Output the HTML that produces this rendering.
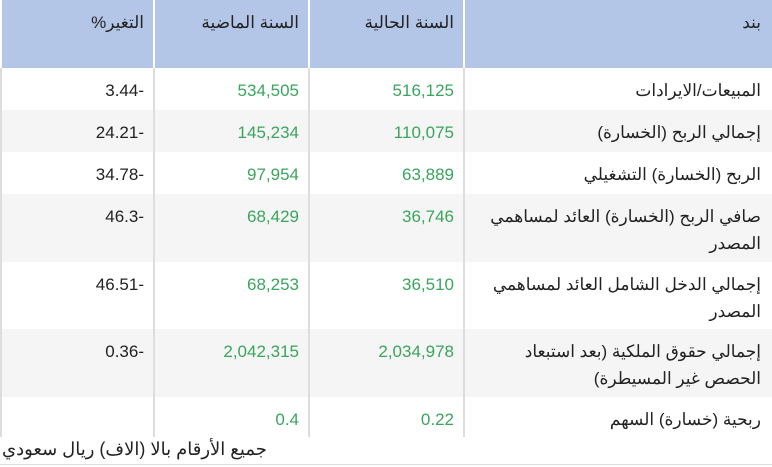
<!DOCTYPE html>
<html><head><meta charset="utf-8"><style>
body{margin:0;width:772px;height:467px;background:#fff;overflow:hidden;font-family:"Liberation Sans","Noto Sans CJK SC",sans-serif;font-size:17px;color:#222}
.r{position:absolute;left:2px;width:770px}
.c{position:absolute;top:0;bottom:0;box-sizing:border-box;padding:9px 11px 0 6px;text-align:right;direction:rtl;line-height:27px}
.n{direction:ltr}
.c1{left:0;width:153px}.c2{left:155px;width:153px}.c3{left:310px;width:153px}.c4{left:465px;width:305px}
.g{color:#3aa55d}
.v{position:absolute;width:2px;background:#ddd;top:68px;height:369px}
</style></head><body>
<div class="r" style="top:0;height:68px;background:#b4c6e8">
<div class="c c1">التغير%</div><div class="c c2">السنة الماضية</div><div class="c c3">السنة الحالية</div><div class="c c4">بند</div></div>
<div style="position:absolute;left:153px;top:0;width:2px;height:68px;background:#fff"></div>
<div style="position:absolute;left:308px;top:0;width:2px;height:68px;background:#fff"></div>
<div style="position:absolute;left:463px;top:0;width:2px;height:68px;background:#fff"></div>
<div style="position:absolute;left:0;top:0;width:2px;height:68px;background:#fff"></div>

<div class="r" style="top:68px;height:42px;background:#fff"><div class="c c1 n">3.44-</div><div class="c c2 g n">534,505</div><div class="c c3 g n">516,125</div><div class="c c4">المبيعات/الايرادات</div></div>
<div class="r" style="top:110px;height:42px;background:#f5f5f5"><div class="c c1 n">24.21-</div><div class="c c2 g n">145,234</div><div class="c c3 g n">110,075</div><div class="c c4">إجمالي الربح (الخسارة)</div></div>
<div class="r" style="top:152px;height:42px;background:#fff"><div class="c c1 n">34.78-</div><div class="c c2 g n">97,954</div><div class="c c3 g n">63,889</div><div class="c c4">الربح (الخسارة) التشغيلي</div></div>
<div class="r" style="top:194px;height:68px;background:#f5f5f5"><div class="c c1 n">46.3-</div><div class="c c2 g n">68,429</div><div class="c c3 g n">36,746</div><div class="c c4">صافي الربح (الخسارة) العائد لمساهمي المصدر</div></div>
<div class="r" style="top:262px;height:67px;background:#fff"><div class="c c1 n">46.51-</div><div class="c c2 g n">68,253</div><div class="c c3 g n">36,510</div><div class="c c4">إجمالي الدخل الشامل العائد لمساهمي المصدر</div></div>
<div class="r" style="top:329px;height:68px;background:#f5f5f5"><div class="c c1 n">0.36-</div><div class="c c2 g n">2,042,315</div><div class="c c3 g n">2,034,978</div><div class="c c4">إجمالي حقوق الملكية (بعد استبعاد<br>الحصص غير المسيطرة)</div></div>
<div class="r" style="top:397px;height:40px;background:#fff"><div class="c c1"></div><div class="c c2 g n">0.4</div><div class="c c3 g n">0.22</div><div class="c c4">ربحية (خسارة) السهم</div></div>
<div class="v" style="left:0"></div><div class="v" style="left:153px"></div><div class="v" style="left:308px"></div><div class="v" style="left:463px"></div>
<div style="position:absolute;left:2px;top:439px;font-size:18px;direction:rtl">جميع الأرقام بالا (الاف) ريال سعودي</div>
<div style="position:absolute;left:0;top:464px;width:772px;height:1px;background:#ddd"></div>
</body></html>
